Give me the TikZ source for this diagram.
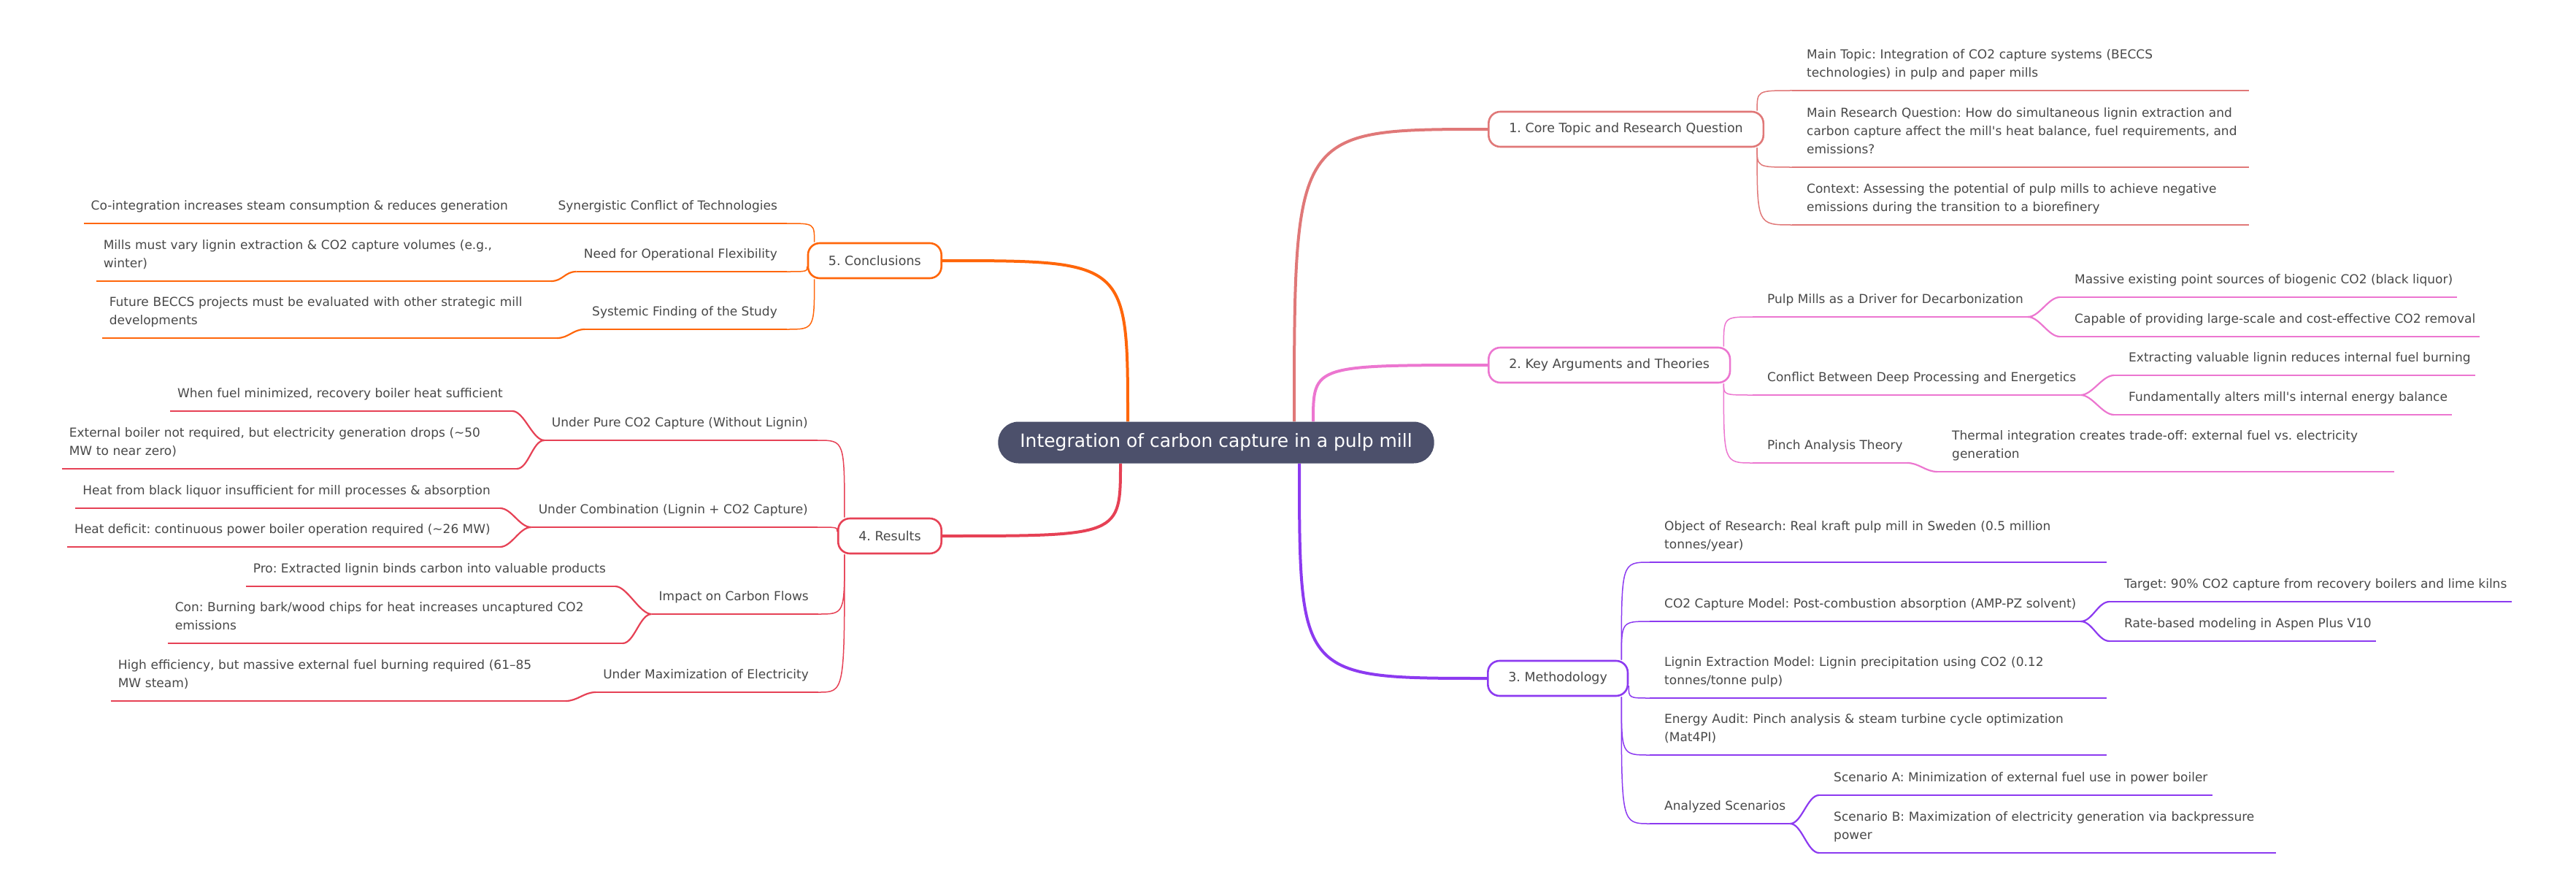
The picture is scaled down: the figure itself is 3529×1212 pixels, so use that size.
\documentclass[tikz,border=0pt]{standalone}
\usepackage{fontspec}
\setmainfont{DejaVu Sans}
\usetikzlibrary{calc,backgrounds}
\frenchspacing
\definecolor{ink}{RGB}{72,72,72}
\definecolor{hubc}{RGB}{76,80,107}
\definecolor{core}{RGB}{224,120,120}
\definecolor{keyarg}{RGB}{236,118,208}
\definecolor{meth}{RGB}{140,58,240}
\definecolor{res}{RGB}{230,65,85}
\definecolor{concl}{RGB}{255,102,10}
\tikzset{
  root/.style={fill=hubc,text=white,rounded corners=28pt,minimum height=57pt,
    inner xsep=30pt,font=\fontsize{25}{30}\selectfont},
  topic/.style={draw=#1,line width=2.6pt,fill=white,rounded corners=16pt,
    minimum height=48pt,inner xsep=28pt,text=ink,font=\fontsize{17.5}{22}\selectfont},
  item/.style={inner xsep=0pt,inner ysep=10.5pt,text=ink,
    font=\fontsize{17}{25}\selectfont,align=left,execute at end node=\strut},
  wrap/.style={item,text width=600pt},
  trunk/.style={line width=4pt},
  twig/.style={line width=1.5pt},
  uline/.style={line width=2.2pt},
  corner/.style={to path={let \p1=(\tikztostart),\p2=(\tikztotarget) in
    .. controls (\x1,\y2) .. (\tikztotarget)}},
  scurve/.style={to path={.. controls ($(\tikztostart)+(16,0)$) and
    ($(\tikztotarget)+(-16,0)$) .. (\tikztotarget)}},
}

\begin{document}
\begin{tikzpicture}[x=1pt,y=-1pt]
  \useasboundingbox (0,0) rectangle (3529,1212);
  % centre and main topics
  \node[root] (hub) at (1666,606) {Integration of carbon capture in a pulp mill};
  \node[topic=core,anchor=west] (b1) at (2038,177) {1. Core Topic and Research Question};
  \node[topic=keyarg,anchor=west] (b2) at (2038,500) {2. Key Arguments and Theories};
  \node[topic=meth,anchor=west] (b3) at (2037,929) {3. Methodology};
  \node[topic=res,anchor=east] (b4) at (1291,734) {4. Results};
  \node[topic=concl,anchor=east] (b5) at (1291,357) {5. Conclusions};

  % 1. core topic
  \node[wrap,anchor=south west] (c1a) at (2475,124) {Main Topic: Integration of CO2 capture systems (BECCS\\technologies) in pulp and paper mills};
  \node[wrap,anchor=south west] (c1b) at (2475,229) {Main Research Question: How do simultaneous lignin extraction and\\carbon capture affect the mill\textquotesingle s heat balance, fuel requirements, and\\emissions?};
  \node[wrap,anchor=south west] (c1c) at (2475,308) {Context: Assessing the potential of pulp mills to achieve negative\\emissions during the transition to a biorefinery};

  % 2. key arguments
  \node[item,anchor=south west] (k2a) at (2421,434) {Pulp Mills as a Driver for Decarbonization};
  \node[item,anchor=south west] (k2a1) at (2842,407) {Massive existing point sources of biogenic CO2 (black liquor)};
  \node[item,anchor=south west] (k2a2) at (2842,461) {Capable of providing large-scale and cost-effective CO2 removal};
  \node[item,anchor=south west] (k2b) at (2421,541) {Conflict Between Deep Processing and Energetics};
  \node[item,anchor=south west] (k2b1) at (2916,514) {Extracting valuable lignin reduces internal fuel burning};
  \node[item,anchor=south west] (k2b2) at (2916,568) {Fundamentally alters mill\textquotesingle s internal energy balance};
  \node[item,anchor=south west] (k2c) at (2421,634) {Pinch Analysis Theory};
  \node[wrap,anchor=south west] (k2c1) at (2674,646) {Thermal integration creates trade-off: external fuel vs. electricity\\generation};

  % 3. methodology
  \node[wrap,anchor=south west] (m3a) at (2280,770) {Object of Research: Real kraft pulp mill in Sweden (0.5 million\\tonnes/year)};
  \node[item,anchor=south west] (m3b) at (2280,851) {CO2 Capture Model: Post-combustion absorption (AMP-PZ solvent)};
  \node[item,anchor=south west] (m3b1) at (2910,824) {Target: 90\% CO2 capture from recovery boilers and lime kilns};
  \node[item,anchor=south west] (m3b2) at (2910,878) {Rate-based modeling in Aspen Plus V10};
  \node[wrap,anchor=south west] (m3c) at (2280,956) {Lignin Extraction Model: Lignin precipitation using CO2 (0.12\\tonnes/tonne pulp)};
  \node[wrap,anchor=south west] (m3d) at (2280,1034) {Energy Audit: Pinch analysis \& steam turbine cycle optimization\\(Mat4PI)};
  \node[item,anchor=south west] (m3e) at (2280,1128) {Analyzed Scenarios};
  \node[item,anchor=south west] (m3e1) at (2512,1089) {Scenario A: Minimization of external fuel use in power boiler};
  \node[wrap,anchor=south west] (m3e2) at (2512,1168) {Scenario B: Maximization of electricity generation via backpressure\\power};

  % 4. results
  \node[item,anchor=south east] (r4a) at (1107,603) {Under Pure CO2 Capture (Without Lignin)};
  \node[item,anchor=south east] (r4a1) at (689,563) {When fuel minimized, recovery boiler heat sufficient};
  \node[wrap,anchor=south east] (r4a2) at (695,642) {External boiler not required, but electricity generation drops (\textasciitilde 50\\MW to near zero)};
  \node[item,anchor=south east] (r4b) at (1107,722) {Under Combination (Lignin + CO2 Capture)};
  \node[item,anchor=south east] (r4b1) at (672,696) {Heat from black liquor insufficient for mill processes \& absorption};
  \node[item,anchor=south east] (r4b2) at (672,749) {Heat deficit: continuous power boiler operation required (\textasciitilde 26 MW)};
  \node[item,anchor=south east] (r4c) at (1108,841) {Impact on Carbon Flows};
  \node[item,anchor=south east] (r4c1) at (830,803) {Pro: Extracted lignin binds carbon into valuable products};
  \node[wrap,anchor=south east] (r4c2) at (840,881) {Con: Burning bark/wood chips for heat increases uncaptured CO2\\emissions};
  \node[item,anchor=south east] (r4d) at (1108,948) {Under Maximization of Electricity};
  \node[wrap,anchor=south east] (r4d1) at (762,960) {High efficiency, but massive external fuel burning required (61--85\\MW steam)};

  % 5. conclusions
  \node[item,anchor=south east] (f5a) at (1065,306) {Synergistic Conflict of Technologies};
  \node[item,anchor=south east] (f5a1) at (696,306) {Co-integration increases steam consumption \& reduces generation};
  \node[item,anchor=south east] (f5b) at (1065,372) {Need for Operational Flexibility};
  \node[wrap,anchor=south east] (f5b1) at (742,385) {Mills must vary lignin extraction \& CO2 capture volumes (e.g.,\\winter)};
  \node[item,anchor=south east] (f5c) at (1065,451) {Systemic Finding of the Study};
  \node[wrap,anchor=south east] (f5c1) at (750,463) {Future BECCS projects must be evaluated with other strategic mill\\developments};

  \begin{scope}[on background layer]
    % trunks
    \draw[trunk,core] ([xshift=107pt]hub.north) to[corner] (b1.west);
    \draw[trunk,keyarg] ([xshift=133pt]hub.north) to[corner] (b2.west);
    \draw[trunk,meth] ([xshift=114pt]hub.south) to[corner] (b3.west);
    \draw[trunk,res] ([xshift=-131pt]hub.south) to[corner] (b4.east);
    \draw[trunk,concl] ([xshift=-121pt]hub.north) to[corner] (b5.east);

    % topic to first level, right
    \foreach \n/\b/\c in {c1a/b1/core,k2a/b2/keyarg,m3a/b3/meth,m3b/b3/meth}
      \draw[twig,color=\c] ([xshift=-10pt]\b.north east) to[corner] ([xshift=-20pt]\n.south west);
    \foreach \n/\b/\c in {c1b/b1/core,c1c/b1/core,k2b/b2/keyarg,k2c/b2/keyarg,m3d/b3/meth,m3e/b3/meth}
      \draw[twig,color=\c] ([xshift=-10pt]\b.south east) to[corner] ([xshift=-20pt]\n.south west);
    \draw[twig,meth] ([yshift=-10pt]b3.east) to[corner] ([xshift=-20pt]m3c.south west);

    % topic to first level, left
    \foreach \n/\b/\c in {f5a/b5/concl,r4a/b4/res}
      \draw[twig,color=\c] ([xshift=10pt]\b.north west) to[corner] ([xshift=13pt]\n.south east);
    \foreach \n/\b/\c in {f5c/b5/concl,r4c/b4/res,r4d/b4/res}
      \draw[twig,color=\c] ([xshift=10pt]\b.south west) to[corner] ([xshift=13pt]\n.south east);
    \draw[twig,concl] ([yshift=-8pt]b5.west) to[corner] ([xshift=13pt]f5b.south east);
    \draw[twig,res] ([yshift=6pt]b4.west) to[corner] ([xshift=13pt]r4b.south east);

    % second level links
    \foreach \a/\b/\c in {k2a/k2a1/keyarg,k2a/k2a2/keyarg,k2b/k2b1/keyarg,k2b/k2b2/keyarg,
        k2c/k2c1/keyarg,m3b/m3b1/meth,m3b/m3b2/meth,m3e/m3e1/meth,m3e/m3e2/meth}
      \draw[uline,color=\c] ([xshift=6pt]\a.south east) to[scurve] ([xshift=-20pt]\b.south west);
    \foreach \a/\b/\c in {f5a1/f5a/concl,f5b1/f5b/concl,f5c1/f5c/concl,r4a1/r4a/res,r4a2/r4a/res,
        r4b1/r4b/res,r4b2/r4b/res,r4c1/r4c/res,r4c2/r4c/res,r4d1/r4d/res}
      \draw[uline,color=\c] ([xshift=13pt]\a.south east) to[scurve] ([xshift=-10pt]\b.south west);

    % underlines
    \foreach \n/\c in {c1a/core,c1b/core,c1c/core,k2a/keyarg,k2a1/keyarg,k2a2/keyarg,
        k2b/keyarg,k2b1/keyarg,k2b2/keyarg,k2c/keyarg,k2c1/keyarg,m3a/meth,m3b/meth,
        m3b1/meth,m3b2/meth,m3c/meth,m3d/meth,m3e/meth,m3e1/meth,m3e2/meth}
      \draw[uline,color=\c] ([xshift=-20pt]\n.south west) -- ([xshift=6pt]\n.south east);
    \foreach \n/\c in {f5a/concl,f5a1/concl,f5b/concl,f5b1/concl,f5c/concl,f5c1/concl,
        r4a/res,r4a1/res,r4a2/res,r4b/res,r4b1/res,r4b2/res,r4c/res,r4c1/res,r4c2/res,
        r4d/res,r4d1/res}
      \draw[uline,color=\c] ([xshift=-10pt]\n.south west) -- ([xshift=13pt]\n.south east);
  \end{scope}
\end{tikzpicture}
\end{document}
